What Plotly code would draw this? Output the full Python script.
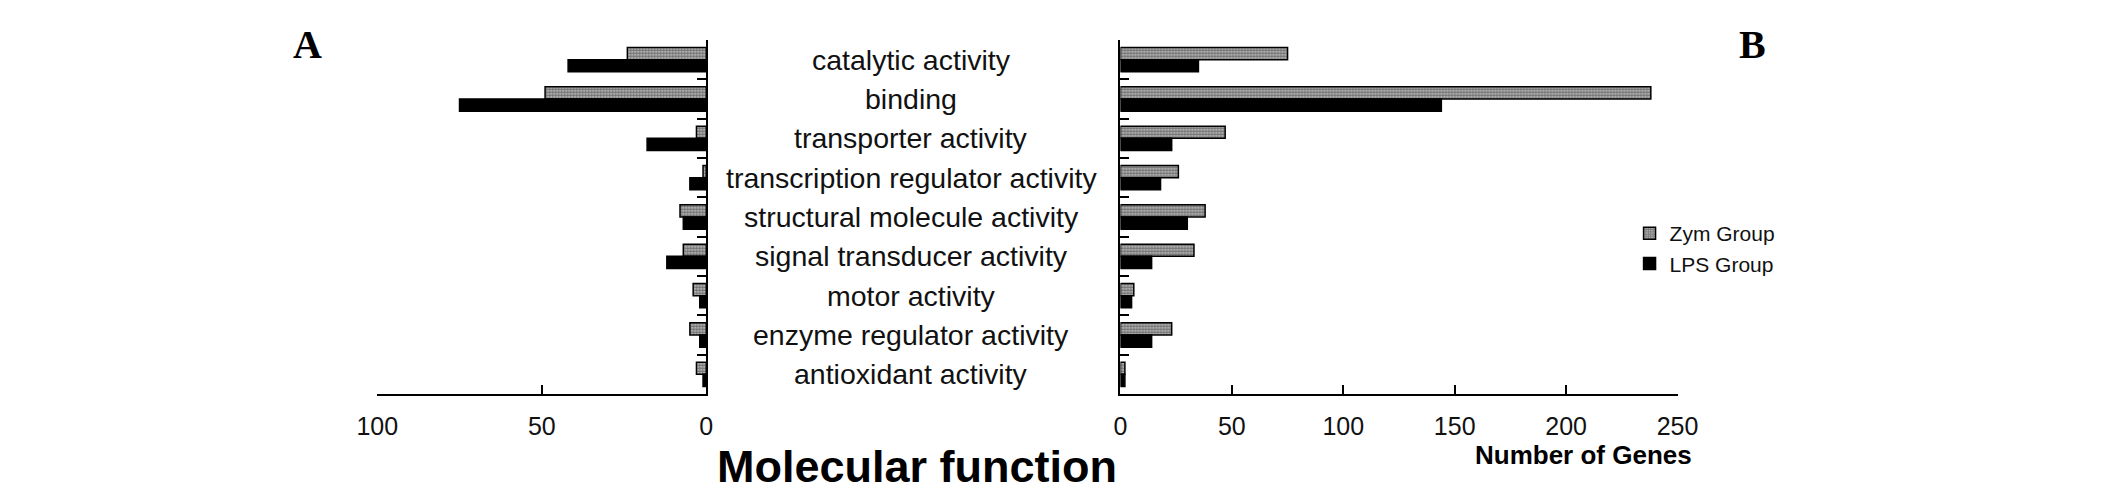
import plotly.graph_objects as go

categories = ["catalytic activity", "binding", "transporter activity",
              "transcription regulator activity", "structural molecule activity",
              "signal transducer activity", "motor activity",
              "enzyme regulator activity", "antioxidant activity"]

left_zym = [24, 49, 3, 1, 8, 7, 4, 5, 3]
left_lps = [42, 75, 18, 5, 7, 12, 2, 2, 1]

right_zym = [75, 238, 47, 26, 38, 33, 6, 23, 2]
right_lps = [35, 144, 23, 18, 30, 14, 5, 14, 2]

left_ticks = [100, 50, 0]
right_ticks = [0, 50, 100, 150, 200, 250]

W, H = 2126, 493
OFF = 8  # page body margin compensation


def px(x):
    # empirical horizontal calibration of the rendered page
    return ((x - 21) / 0.98 - OFF) / W


def py(y):
    return 1 - (y - OFF) / H


fig = go.Figure()

zym_marker = dict(color="white", line=dict(color="black", width=1.5),
                  pattern=dict(shape=".", size=3, solidity=0.75, fgcolor="#111", bgcolor="#d8d8d8"))
lps_marker = dict(color="black", line=dict(color="black", width=1.5))

fig.add_trace(go.Bar(y=categories, x=left_zym, orientation="h", name="Zym Group",
                     marker=zym_marker, xaxis="x", yaxis="y", showlegend=False))
fig.add_trace(go.Bar(y=categories, x=left_lps, orientation="h", name="LPS Group",
                     marker=lps_marker, xaxis="x", yaxis="y", showlegend=False))
fig.add_trace(go.Bar(y=categories, x=right_zym, orientation="h", name="Zym Group",
                     marker=zym_marker, xaxis="x2", yaxis="y2"))
fig.add_trace(go.Bar(y=categories, x=right_lps, orientation="h", name="LPS Group",
                     marker=lps_marker, xaxis="x2", yaxis="y2"))

tickfont = dict(family="Liberation Sans, Arial", size=25, color="#111")

xcommon = dict(showgrid=False, zeroline=False, showline=True, linecolor="black", linewidth=2,
               ticks="inside", ticklen=9, tickwidth=2, tickcolor="black",
               tickfont=tickfont, ticklabelstandoff=9, fixedrange=True)
ycommon = dict(showgrid=False, zeroline=False, showline=True, linecolor="black", linewidth=2,
               ticks="inside", ticklen=9, tickwidth=2, tickcolor="black",
               tickson="boundaries", showticklabels=False, type="category",
               categoryorder="array", categoryarray=categories, autorange="reversed",
               fixedrange=True)

ydom = [py(394), py(40)]

fig.update_layout(
    width=W, height=H,
    margin=dict(l=0, r=0, t=0, b=0),
    paper_bgcolor="white", plot_bgcolor="white",
    barmode="group", bargap=0.38, bargroupgap=0,
    xaxis=dict(domain=[px(377), px(706)], range=[100, 0], tickvals=left_ticks,
               ticktext=[str(v) for v in left_ticks], anchor="y", **xcommon),
    yaxis=dict(domain=ydom, anchor="x", side="right", **ycommon),
    xaxis2=dict(domain=[px(1120), px(1677)], range=[0, 250], tickvals=right_ticks,
                ticktext=[str(v) for v in right_ticks], anchor="y2", **xcommon),
    yaxis2=dict(domain=ydom, anchor="x2", side="left", **ycommon),
    legend=dict(x=px(1629), y=py(213), xanchor="left", yanchor="top",
                font=dict(family="Liberation Sans, Arial", size=21, color="#111"),
                itemwidth=30, tracegroupgap=0, bgcolor="rgba(0,0,0,0)"),
    font=dict(family="Liberation Sans, Arial", color="black"),
)

annotations = []
for c in categories:
    annotations.append(dict(x=px(911), y=c, xref="paper", yref="y", text=c, showarrow=False,
                            xanchor="center", yanchor="middle",
                            font=dict(family="Liberation Sans, Arial", size=28.5, color="#111")))
annotations.append(dict(x=px(917), y=py(466), xref="paper", yref="paper", text="<b>Molecular function</b>",
                        showarrow=False, xanchor="center", yanchor="middle",
                        font=dict(family="Liberation Sans, Arial", size=45, color="black")))
annotations.append(dict(x=px(1583), y=py(455), xref="paper", yref="paper", text="<b>Number of Genes</b>",
                        showarrow=False, xanchor="center", yanchor="middle",
                        font=dict(family="Liberation Sans, Arial", size=26, color="black")))
annotations.append(dict(x=px(307), y=py(44), xref="paper", yref="paper", text="<b>A</b>",
                        showarrow=False, xanchor="center", yanchor="middle",
                        font=dict(family="Liberation Serif, Times New Roman", size=40, color="black")))
annotations.append(dict(x=px(1752), y=py(44), xref="paper", yref="paper", text="<b>B</b>",
                        showarrow=False, xanchor="center", yanchor="middle",
                        font=dict(family="Liberation Serif, Times New Roman", size=40, color="black")))
fig.update_layout(annotations=annotations)

fig.write_html("out.html")
